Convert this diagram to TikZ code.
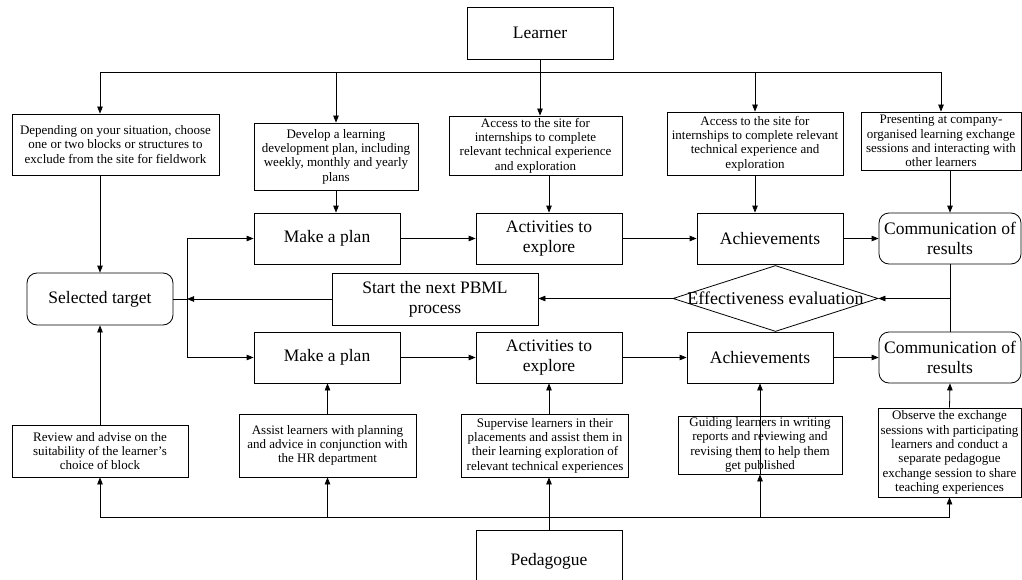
\documentclass[tikz,border=0pt]{standalone}
\usepackage{fontspec}
\setmainfont{Liberation Serif}
\usetikzlibrary{arrows.meta,shapes.geometric}
\tikzset{
 base/.style={draw, line width=0.8pt, inner sep=0pt, align=center},
 small/.style={base, font=\fontsize{13}{14.3}\selectfont},
 big/.style={base, font=\fontsize{17.5}{20}\selectfont},
 rbig/.style={big, rounded corners=10pt},
 arr/.style={line width=0.8pt, -{Triangle[length=7pt,width=5.5pt]}},
 ln/.style={line width=0.8pt},
}
\begin{document}
\begin{tikzpicture}[x=1pt,y=-1pt]
\useasboundingbox (0,0) rectangle (1022,580);

% Learner
\node[big, minimum width=146pt, minimum height=52pt] (learner) at (540,33) {Learner};

% top boxes
\node[small, minimum width=207pt, minimum height=61pt] (t1) at (115.5,144.5) {Depending on your situation, choose\\one or two blocks or structures to\\exclude from the site for fieldwork};
\node[small, minimum width=164pt, minimum height=67pt] (t2) at (336,156.5) {Develop a learning\\development plan, including\\weekly, monthly and yearly\\plans};
\node[small, minimum width=173pt, minimum height=59pt] (t3) at (535.5,145.5) {Access to the site for\\internships to complete\\relevant technical experience\\and exploration};
\node[small, minimum width=176pt, minimum height=63pt] (t4) at (755,143.5) {Access to the site for\\internships to complete relevant\\technical experience and\\exploration};
\node[small, minimum width=160pt, minimum height=58pt] (t5) at (941,141) {Presenting at company-\\organised learning exchange\\sessions and interacting with\\other learners};

% row 1
\node[big, minimum width=146pt, minimum height=51pt] (m1) at (327,238.5) {Make a plan};
\node[big, minimum width=146pt, minimum height=51pt] (a1) at (549,238.5) {Activities to\\explore};
\node[big, minimum width=146pt, minimum height=51pt] (c1) at (770,238.5) {Achievements};
\node[rbig, minimum width=142pt, minimum height=51pt] (r1) at (950,238.5) {Communication of\\results};

% middle row
\node[rbig, minimum width=146pt, minimum height=52pt] (st) at (100,299) {Selected target};
\node[big, minimum width=206pt, minimum height=52pt] (pb) at (435,299) {Start the next PBML\\process};
\node[draw, diamond, line width=0.8pt, inner sep=0pt, minimum width=205pt, minimum height=66pt, font=\fontsize{18}{20}\selectfont] (ev) at (775.5,298.5) {\makebox[0pt]{Effectiveness evaluation}};

% row 2
\node[big, minimum width=146pt, minimum height=51pt] (m2) at (327,357.5) {Make a plan};
\node[big, minimum width=146pt, minimum height=51pt] (a2) at (549,357.5) {Activities to\\explore};
\node[big, minimum width=146pt, minimum height=51pt] (c2) at (760,357.5) {Achievements};
\node[rbig, minimum width=142pt, minimum height=51pt] (r2) at (950,357.5) {Communication of\\results};

% bottom boxes
\node[small, minimum width=176pt, minimum height=52pt] (b1) at (100,451) {Review and advise on the\\suitability of the learner's\\choice of block};
\node[small, minimum width=177pt, minimum height=63pt] (b2) at (327.5,445.5) {Assist learners with planning\\and advice in conjunction with\\the HR department};
\node[small, minimum width=167pt, minimum height=63pt] (b3) at (545,445.5) {Supervise learners in their\\placements and assist them in\\their learning exploration of\\relevant technical experiences};
\node[small, minimum width=164pt, minimum height=58pt] (b4) at (760,445) {Guiding learners in writing\\reports and reviewing and\\revising them to help them\\get published};
\node[small, minimum width=143pt, minimum height=89pt] (b5) at (949.5,452.5) {Observe the exchange\\sessions with participating\\learners and conduct a\\separate pedagogue\\exchange session to share\\teaching experiences};

% Pedagogue
\node[big, minimum width=146pt, minimum height=62pt] (ped) at (549,561) {Pedagogue};

% ---- connectors from Learner
\coordinate (L) at (540,72);
\draw[ln] (learner.south) -- (L);
\draw[arr] (L) -- (learner.south |- t3.north);
\draw[arr] (L) -| (st |- t1.north);
\draw[arr] (L) -| (t2.north);
\draw[arr] (L) -| (t4.north);
\draw[arr] (L) -| (t5.north);

% top boxes down
\draw[arr] (st |- t1.south) -- (st.north);
\draw[arr] (t2.south) -- (t2.south |- m1.north);
\draw[arr] (a1 |- t3.south) -- (a1.north);
\draw[arr] (t4.south) -- (t4.south |- c1.north);
\draw[arr] (r1 |- t5.south) -- (r1.north);

% rows
\draw[arr] (m1) -- (a1);
\draw[arr] (a1) -- (c1);
\draw[arr] (c1) -- (r1);
\draw[arr] (m2) -- (a2);
\draw[arr] (a2) -- (c2);
\draw[arr] (c2) -- (r2);

% junction at selected target
\coordinate (J) at (187,299);
\draw[ln] (st.east) -- (J);
\draw[arr] (J) |- (m1.west);
\draw[arr] (J) |- (m2.west);
\draw[arr] (pb.west) -- (J);

% evaluation loop
\coordinate (K) at (950,298.5);
\draw[ln] (r1.south) -- (r2.north);
\draw[arr] (K) -- (ev.east);
\draw[arr] (ev.west) -- (ev.west -| pb.east);

% pedagogue connectors
\coordinate (P) at (549,517);
\draw[ln] (ped.north) -- (P);
\draw[arr] (P) -| (st |- b1.south);
\draw[arr] (P) -| (b2.south);
\draw[arr] (P) -- (P |- b3.south);
\draw[arr] (P) -| (b4.south);
\draw[arr] (P) -| (b5.south);

% bottom boxes up
\draw[arr] (st |- b1.north) -- (st.south);
\draw[arr] (b2.north) -- (b2.north |- m2.south);
\draw[arr] (a2 |- b3.north) -- (a2.south);
\draw[arr] (b4.south) -- (c2.south);
\draw[arr] (b5.north) -- (r2.south);
\end{tikzpicture}
\end{document}
